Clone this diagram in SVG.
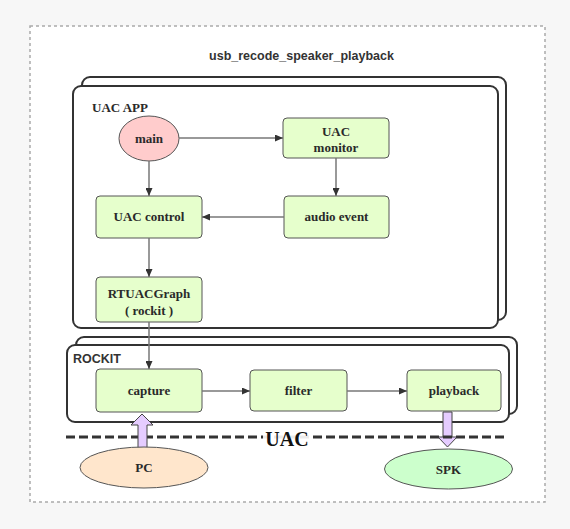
<svg xmlns="http://www.w3.org/2000/svg" width="570" height="529" viewBox="0 0 570 529">
<defs>
<marker id="arr" markerUnits="userSpaceOnUse" markerWidth="9" markerHeight="7" refX="8" refY="3.5" orient="auto"><path d="M0,0 L8,3.5 L0,7 z" fill="#333"/></marker>
<style>
.frame{fill:#fff;stroke:#333;stroke-width:2}
.box{fill:#e6ffcc;stroke:#555;stroke-width:1}
.lbl{font-family:'Liberation Serif', 'Times New Roman', serif;font-weight:bold;font-size:13px;fill:#2a2a2a;text-anchor:middle}
.sans{font-family:'Liberation Sans', Arial, sans-serif;font-weight:bold;fill:#333}
.conn{stroke:#777;stroke-width:1.5;fill:none;marker-end:url(#arr)}
.fat{fill:#e5ccff;stroke:#444;stroke-width:1}
</style>
</defs>
<rect x="0" y="0" width="570" height="529" fill="#f7f7f7"/>
<rect x="30" y="26" width="515" height="476" fill="#fff" stroke="#aaa" stroke-width="1.5" stroke-dasharray="3 3"/>
<text x="301.5" y="60" class="sans" font-size="12.5" text-anchor="middle">usb_recode_speaker_playback</text>

<g id="uac-app">
<rect x="82" y="77" width="424" height="243" rx="8" class="frame"/>
<rect x="73" y="86" width="425" height="242" rx="8" class="frame"/>
<text x="92" y="112" class="lbl" font-family="Liberation Serif, serif" style="text-anchor:start">UAC APP</text>
</g>
<g id="rockit">
<rect x="76" y="337" width="441" height="77" rx="8" class="frame"/>
<rect x="67" y="345" width="442" height="77" rx="8" class="frame"/>
<text x="73" y="363" class="sans" font-size="12.5">ROCKIT</text>
</g>

<g id="main"><ellipse cx="149" cy="138.5" rx="30" ry="22.5" fill="#ffcccc" stroke="#555"/><text x="149" y="143" class="lbl">main</text></g>
<g id="uac-monitor"><rect x="283" y="118" width="106" height="40" rx="4" class="box"/><text x="336" y="136" class="lbl">UAC</text><text x="336" y="152" class="lbl">monitor</text></g>
<g id="audio-event"><rect x="284" y="196" width="105" height="42" rx="4" class="box"/><text x="336.5" y="221" class="lbl">audio event</text></g>
<g id="uac-control"><rect x="96" y="196" width="106" height="42" rx="4" class="box"/><text x="149" y="221" class="lbl">UAC control</text></g>
<g id="rtuacgraph"><rect x="96" y="277" width="106" height="45" rx="4" class="box"/><text x="149" y="298" class="lbl">RTUACGraph</text><text x="149" y="315" class="lbl">( rockit )</text></g>
<g id="capture"><rect x="96" y="369" width="106" height="43" rx="4" class="box"/><text x="149" y="395" class="lbl">capture</text></g>
<g id="filter"><rect x="250" y="370" width="97" height="41" rx="4" class="box"/><text x="298.5" y="395" class="lbl">filter</text></g>
<g id="playback"><rect x="407" y="370" width="94" height="41" rx="4" class="box"/><text x="454" y="395" class="lbl">playback</text></g>

<g id="connectors">
<line x1="149" y1="161" x2="149" y2="196" class="conn"/>
<line x1="179" y1="138" x2="283" y2="138" class="conn"/>
<line x1="336" y1="158" x2="336" y2="196" class="conn"/>
<line x1="284" y1="217" x2="202" y2="217" class="conn"/>
<line x1="149" y1="238" x2="149" y2="277" class="conn"/>
<line x1="149" y1="322" x2="149" y2="369" class="conn"/>
<line x1="202" y1="391" x2="250" y2="391" class="conn"/>
<line x1="347" y1="391" x2="407" y2="391" class="conn"/>
<polygon id="spk-arrow" class="fat" points="443,412 452,412 452,437 457,437 447.5,447 438,437 443,437"/>
</g>

<g id="uac-boundary">
<line x1="66" y1="437" x2="508" y2="437" stroke="#333" stroke-width="3" stroke-dasharray="9 4"/>
<rect x="263" y="424" width="47" height="22" fill="#fff" opacity="0.9"/>
<text x="287" y="446" font-family="Liberation Serif, serif" font-weight="bold" font-size="20" text-anchor="middle" fill="#111">UAC</text>
</g>
<polygon id="pc-arrow" class="fat" points="142,414 153,425 147,425 147,448 138,448 138,425 131,425"/>

<g id="pc"><ellipse cx="144" cy="467.5" rx="64" ry="20.5" fill="#ffe6cc" stroke="#555"/><text x="144" y="472" class="lbl">PC</text></g>
<g id="spk"><ellipse cx="448.5" cy="469" rx="64" ry="20" fill="#ccffcc" stroke="#555"/><text x="448.5" y="474" class="lbl">SPK</text></g>
</svg>
